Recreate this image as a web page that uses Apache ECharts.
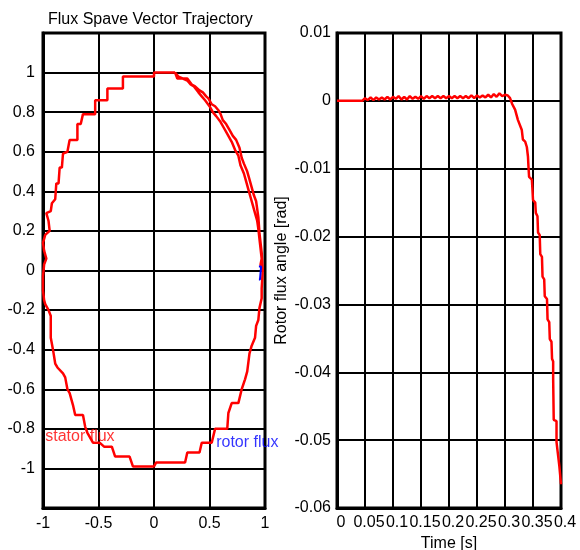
<!DOCTYPE html>
<html>
<head>
<meta charset="UTF-8">
<title>Flux Spave Vector Trajectory</title>
<script src="https://cdn.jsdelivr.net/npm/echarts@6/dist/echarts.min.js"></script>
<style>
    body { margin: 0; background: #fff; }
    #chart { width: 580px; height: 550px; }
</style>
</head>
<body>
<div id="chart"></div>
<script>
// stator flux trajectory (alpha / beta components)
var statorX = [0.19, 0, 0, -0.28, -0.28, -0.42, -0.42, -0.53, -0.53, -0.64, -0.66, -0.69, -0.69, -0.76, -0.78, -0.82,
    -0.83, -0.85, -0.86, -0.88, -0.89, -0.92, -0.93, -0.97, -0.95, -0.94, -0.98, -1.0, -0.99, -0.97, -0.99, -1.0,
    -1.0, -0.99, -0.98, -0.95, -0.93, -0.93, -0.91, -0.89, -0.87, -0.82, -0.80, -0.78, -0.76, -0.73, -0.71, -0.64,
    -0.62, -0.60, -0.55, -0.49, -0.45, -0.38, -0.35, -0.22, -0.19, 0, 0.02, 0.28, 0.30, 0.41, 0.43, 0.52,
    0.55, 0.66, 0.67, 0.70, 0.76, 0.79, 0.82, 0.84, 0.86, 0.88, 0.91, 0.92, 0.94, 0.95, 0.97, 0.97,
    0.98, 0.97, 0.96, 0.95, 0.94, 0.92, 0.90, 0.88, 0.86, 0.84, 0.81, 0.79, 0.77, 0.74, 0.71, 0.68,
    0.65, 0.62, 0.60, 0.58, 0.55, 0.52, 0.49, 0.47, 0.44, 0.41, 0.37, 0.34, 0.30, 0.21, 0.19,
    0.22, 0.30, 0.33, 0.36, 0.40, 0.43, 0.46, 0.50, 0.53, 0.56, 0.60, 0.63, 0.66, 0.70, 0.73, 0.76,
    0.78, 0.81, 0.83, 0.85, 0.87, 0.89, 0.91, 0.93, 0.94, 0.95, 0.96, 0.97, 0.96, 0.98];
var statorY = [1.0, 1.0, 0.98, 0.98, 0.92, 0.92, 0.86, 0.86, 0.79, 0.79, 0.74, 0.74, 0.66, 0.66, 0.60, 0.59,
    0.52, 0.52, 0.44, 0.44, 0.36, 0.34, 0.30, 0.29, 0.25, 0.20, 0.18, 0.14, 0.10, 0.06, 0.03, -0.03,
    -0.10, -0.15, -0.17, -0.20, -0.23, -0.34, -0.40, -0.47, -0.49, -0.52, -0.54, -0.60, -0.62, -0.68, -0.73, -0.73,
    -0.79, -0.82, -0.87, -0.87, -0.89, -0.89, -0.94, -0.94, -0.99, -0.99, -0.97, -0.97, -0.92, -0.92, -0.87, -0.87,
    -0.80, -0.80, -0.72, -0.67, -0.67, -0.60, -0.55, -0.51, -0.42, -0.38, -0.34, -0.28, -0.25, -0.19, -0.14, -0.09,
    0, 0.09, 0.14, 0.19, 0.27, 0.35, 0.38, 0.42, 0.46, 0.50, 0.54, 0.57, 0.62, 0.66, 0.68, 0.71,
    0.74, 0.76, 0.79, 0.81, 0.83, 0.84, 0.87, 0.88, 0.90, 0.91, 0.93, 0.94, 0.97, 0.97, 1.0,
    0.98, 0.96, 0.94, 0.93, 0.90, 0.88, 0.86, 0.83, 0.80, 0.78, 0.75, 0.72, 0.69, 0.65, 0.61, 0.58,
    0.53, 0.49, 0.45, 0.41, 0.37, 0.33, 0.29, 0.25, 0.21, 0.16, 0.11, 0.06, 0.03, -0.01];

// rotor flux (barely moves)
var rotorX = [0.945, 0.965, 0.955, 0.955, 0.945, 0.965];
var rotorY = [0.02, 0.02, 0.02, -0.045, -0.045, -0.045];

// rotor flux angle over time
var timeS = [0, 0.045, 0.05, 0.055, 0.06, 0.065, 0.07, 0.075, 0.08, 0.085, 0.09, 0.095, 0.1, 0.105, 0.11, 0.115,
    0.12, 0.125, 0.13, 0.135, 0.14, 0.145, 0.15, 0.155, 0.16, 0.165, 0.17, 0.175, 0.18, 0.185, 0.19, 0.195,
    0.2, 0.205, 0.21, 0.215, 0.22, 0.225, 0.23, 0.235, 0.24, 0.245, 0.25, 0.255, 0.26, 0.265, 0.27, 0.275,
    0.28, 0.285, 0.29, 0.295, 0.3, 0.305, 0.309, 0.313, 0.318, 0.323, 0.326, 0.33, 0.332, 0.336, 0.339, 0.341,
    0.342, 0.343, 0.348, 0.349, 0.35, 0.354, 0.355, 0.358, 0.359, 0.362, 0.363, 0.366, 0.367, 0.37, 0.371, 0.375,
    0.376, 0.379, 0.38, 0.383, 0.384, 0.386, 0.386, 0.387, 0.392, 0.392, 0.395, 0.397, 0.399, 0.4];
var angleRad = [0, 0, 0.0004, 0.0001, 0.0005, 0.0001, 0.0005, 0.0002, 0.0005, 0.0002, 0.0006, 0.0002, 0.0006, 0.0003, 0.0007, 0.0002,
    0.0006, 0.0002, 0.0007, 0.0003, 0.0006, 0.0003, 0.0007, 0.0003, 0.0007, 0.0004, 0.0007, 0.0004, 0.0007, 0.0004, 0.0007, 0.0004,
    0.0007, 0.0004, 0.0007, 0.0004, 0.0007, 0.0004, 0.0007, 0.0004, 0.0008, 0.0004, 0.0008, 0.0005, 0.0008, 0.0005, 0.0009, 0.0005,
    0.0010, 0.0006, 0.0011, 0.0007, 0.0009, 0.0008, 0.0004, -0.0005, -0.0013, -0.0028, -0.0030, -0.0043, -0.0057, -0.0060, -0.0068, -0.0082,
    -0.0098, -0.0112, -0.0116, -0.0130, -0.0146, -0.0150, -0.0165, -0.0170, -0.0194, -0.0198, -0.0226, -0.0230, -0.0259, -0.0263, -0.0288, -0.0292,
    -0.0322, -0.0326, -0.0351, -0.0355, -0.0380, -0.0384, -0.0410, -0.0470, -0.0472, -0.0503, -0.0505, -0.0538, -0.0540, -0.0565];

function pairs(xs, ys) {
    return xs.map(function (x, i) { return [x, ys[i]]; });
}

var font = 'Liberation Sans, Arial, sans-serif';
var gridLine = { show: true, lineStyle: { color: '#000', width: 2 } };
var border = { show: true, onZero: false, lineStyle: { color: '#000', width: 3 } };
var label = { color: '#000', fontSize: 16, fontFamily: font };

var chart = echarts.init(document.getElementById('chart'));
chart.setOption({
    backgroundColor: '#fff',
    animation: false,
    title: {
        text: 'Flux Spave Vector Trajectory',
        left: 43, top: 7,
        textStyle: { color: '#000', fontSize: 16, fontWeight: 'normal', fontFamily: font }
    },
    grid: [
        { left: 43, right: 315, top: 33, bottom: 42, show: true, borderColor: '#000', borderWidth: 3, outerBoundsMode: 'none' },
        { left: 337, right: 19, top: 33, bottom: 42, show: true, borderColor: '#000', borderWidth: 3, outerBoundsMode: 'none' }
    ],
    xAxis: [
        {
            gridIndex: 0, type: 'value', min: -1, max: 1, interval: 0.5,
            axisLine: border, axisTick: { show: false }, splitLine: gridLine,
            axisLabel: Object.assign({ margin: 8 }, label)
        },
        {
            gridIndex: 1, type: 'value', min: 0, max: 0.4, interval: 0.05,
            axisLine: border, axisTick: { show: false }, splitLine: gridLine,
            axisLabel: Object.assign({ margin: 7, hideOverlap: false, padding: [0, 0, 0, 8] }, label),
            name: 'Time [s]', nameLocation: 'middle', nameGap: 22,
            nameTextStyle: Object.assign({ verticalAlign: 'top' }, label)
        }
    ],
    yAxis: [
        {
            gridIndex: 0, type: 'value', min: -1.2, max: 1.2, interval: 0.2,
            axisLine: border, axisTick: { show: false }, splitLine: gridLine,
            axisLabel: Object.assign({
                margin: 8,
                formatter: function (v) { return Math.abs(v) > 1.05 ? '' : String(+v.toFixed(1)); }
            }, label)
        },
        {
            gridIndex: 1, type: 'value', min: -0.06, max: 0.01, interval: 0.01,
            axisLine: border, axisTick: { show: false }, splitLine: gridLine,
            axisLabel: Object.assign({ margin: 6 }, label),
            name: 'Rotor flux angle [rad]', nameLocation: 'middle', nameGap: 47,
            nameTextStyle: label
        }
    ],
    series: [
        {
            type: 'line', xAxisIndex: 0, yAxisIndex: 0, showSymbol: false,
            data: pairs(statorX, statorY),
            lineStyle: { color: '#ff0000', width: 2.5 }
        },
        {
            type: 'line', xAxisIndex: 0, yAxisIndex: 0, showSymbol: false,
            data: pairs(rotorX, rotorY),
            lineStyle: { color: '#0000ff', width: 2 }
        },
        {
            type: 'scatter', xAxisIndex: 0, yAxisIndex: 0, symbolSize: 0, silent: true,
            data: [
                { value: [-0.98, -0.84], label: { formatter: 'stator flux', color: '#ff0000' } },
                { value: [0.56, -0.87], label: { formatter: 'rotor flux', color: '#0000ff' } }
            ],
            label: { show: true, position: 'right', distance: 0, fontSize: 16, fontFamily: font }
        },
        {
            type: 'line', xAxisIndex: 1, yAxisIndex: 1, showSymbol: false,
            data: pairs(timeS, angleRad),
            lineStyle: { color: '#ff0000', width: 2.5 }
        }
    ]
});
</script>
</body>
</html>
